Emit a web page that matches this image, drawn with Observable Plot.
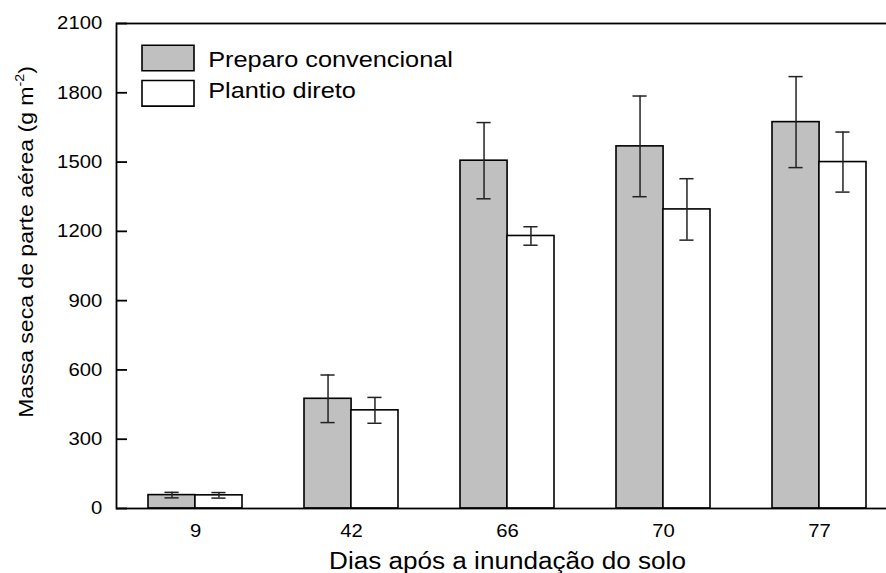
<!DOCTYPE html>
<html>
<head>
<meta charset="utf-8">
<script src="https://cdn.jsdelivr.net/npm/d3@7"></script>
<script src="https://cdn.jsdelivr.net/npm/@observablehq/plot@0.6"></script>
<style>
  body { margin: 0; background: #fff; }
  #chart svg { font-family: "Liberation Sans", Arial, Helvetica, sans-serif; background: #fff; }
</style>
</head>
<body>
<div id="chart"></div>
<script>
// Dry shoot mass by days after flooding, two tillage systems
const days = ["9", "42", "66", "70", "77"];
const seriesNames = ["Preparo convencional", "Plantio direto"];
const convencional = [58, 475, 1506, 1568, 1673];
const convencionalErr = [12, 103, 165, 218, 197];
const direto = [57, 425, 1180, 1295, 1500];
const diretoErr = [12, 56, 40, 133, 130];
const yTicks = [0, 300, 600, 900, 1200, 1500, 1800, 2100];
const fills = ["#c0c0c0", "#ffffff"];

const rows = days.flatMap((d, i) => [
  {day: d, series: seriesNames[0], value: convencional[i], err: convencionalErr[i]},
  {day: d, series: seriesNames[1], value: direto[i], err: diretoErr[i]}
]);
const pc = rows.filter(r => r.series === seriesNames[0]);
const pd = rows.filter(r => r.series === seriesNames[1]);

// layout
const W = 886, H = 573;
const mLeft = 116, mRight = -12, mTop = 23, mBottom = 65;
const step = (W - mRight - mLeft) / days.length;
const band = step * 0.6;
const half = band / 2;
const cap = 14;
const capInset = (half - cap) / 2;

const swatch = {draw(ctx) { ctx.rect(-26, -12.8, 52, 25.6); }};

const chart = Plot.plot({
  width: W,
  height: H,
  marginLeft: mLeft,
  marginRight: mRight,
  marginTop: mTop,
  marginBottom: mBottom,
  x: {domain: days, paddingInner: 0.4, paddingOuter: 0.2, axis: null},
  y: {domain: [0, 2100], axis: null},
  marks: [
    // bars
    Plot.barY(pc, {x: "day", y: "value", fill: fills[0], stroke: "#000", strokeWidth: 1.6, insetRight: half}),
    Plot.barY(pd, {x: "day", y: "value", fill: fills[1], stroke: "#000", strokeWidth: 1.6, insetLeft: half}),
    // error bars
    Plot.ruleX(pc, {x: "day", y1: d => d.value - d.err, y2: d => d.value + d.err, dx: -half / 2, stroke: "#222", strokeWidth: 1.5}),
    Plot.ruleX(pd, {x: "day", y1: d => d.value - d.err, y2: d => d.value + d.err, dx: half / 2, stroke: "#222", strokeWidth: 1.5}),
    Plot.tickY(pc, {x: "day", y: d => d.value - d.err, insetLeft: capInset, insetRight: half + capInset, stroke: "#222", strokeWidth: 1.5}),
    Plot.tickY(pc, {x: "day", y: d => d.value + d.err, insetLeft: capInset, insetRight: half + capInset, stroke: "#222", strokeWidth: 1.5}),
    Plot.tickY(pd, {x: "day", y: d => d.value - d.err, insetLeft: half + capInset, insetRight: capInset, stroke: "#222", strokeWidth: 1.5}),
    Plot.tickY(pd, {x: "day", y: d => d.value + d.err, insetLeft: half + capInset, insetRight: capInset, stroke: "#222", strokeWidth: 1.5}),
    // frame and axes
    Plot.frame({stroke: "#000", strokeWidth: 1.8}),
    Plot.axisY(yTicks, {anchor: "left", tickSize: -11, tickFormat: () => "", strokeWidth: 1.8, label: null}),
    Plot.axisY(yTicks, {anchor: "left", tickSize: 0, tickPadding: 14.3, fontSize: 18.6, fill: "#000", label: null, tickFormat: d => String(d)}),
    Plot.axisX({anchor: "bottom", tickSize: 0, tickPadding: 15, fontSize: 18.6, fill: "#000", label: null}),
    // axis titles
    Plot.text(["Dias após a inundação do solo"], {frameAnchor: "bottom", text: d => d, lineAnchor: "middle", dy: 53.5, fontSize: 23.3, fill: "#000"}),
    Plot.text(["Massa seca de parte aérea (g m-2)"], {frameAnchor: "left", text: d => d, textAnchor: "middle", lineAnchor: "middle", rotate: -90, dx: -90, dy: -24, fontSize: 21, fill: "#000"}),
    // legend
    ...seriesNames.map((name, i) => Plot.dot([name], {frameAnchor: "top-left", symbol: swatch, fill: fills[i], stroke: "#000", strokeWidth: 1.6, dx: 51.5, dy: 34.5 + i * 35.3})),
    ...seriesNames.map((name, i) => Plot.text([name], {frameAnchor: "top-left", text: d => d, textAnchor: "start", lineAnchor: "middle", dx: 91.7, dy: 36.7 + i * 30.3, fontSize: 22, fill: "#000"}))
  ]
});

document.getElementById("chart").append(chart);

// superscript unit exponent on the y title
const texts = Array.from(chart.querySelectorAll("text"));
const yl = texts.find(t => t.textContent === "Massa seca de parte aérea (g m-2)");
if (yl) {
  yl.textContent = "Massa seca de parte aérea (g m";
  const sup = document.createElementNS("http://www.w3.org/2000/svg", "tspan");
  sup.textContent = "-2";
  sup.setAttribute("font-size", "13");
  sup.setAttribute("dy", "-9");
  const close = document.createElementNS("http://www.w3.org/2000/svg", "tspan");
  close.textContent = ")";
  close.setAttribute("dy", "9");
  yl.append(sup, close);
}

// the typeface runs slightly wide along the baseline
const stretchFor = t => {
  const s = t.textContent;
  if (s.startsWith("Massa")) return 1.096;
  if (s.startsWith("Dias")) return 1.12;
  if (seriesNames.includes(s)) return 1.15;
  return 1.09;
};
texts.forEach(t => {
  const len = t.getComputedTextLength();
  if (len > 0) {
    t.setAttribute("textLength", (len * stretchFor(t)).toFixed(2));
    t.setAttribute("lengthAdjust", "spacingAndGlyphs");
  }
});
</script>
</body>
</html>
